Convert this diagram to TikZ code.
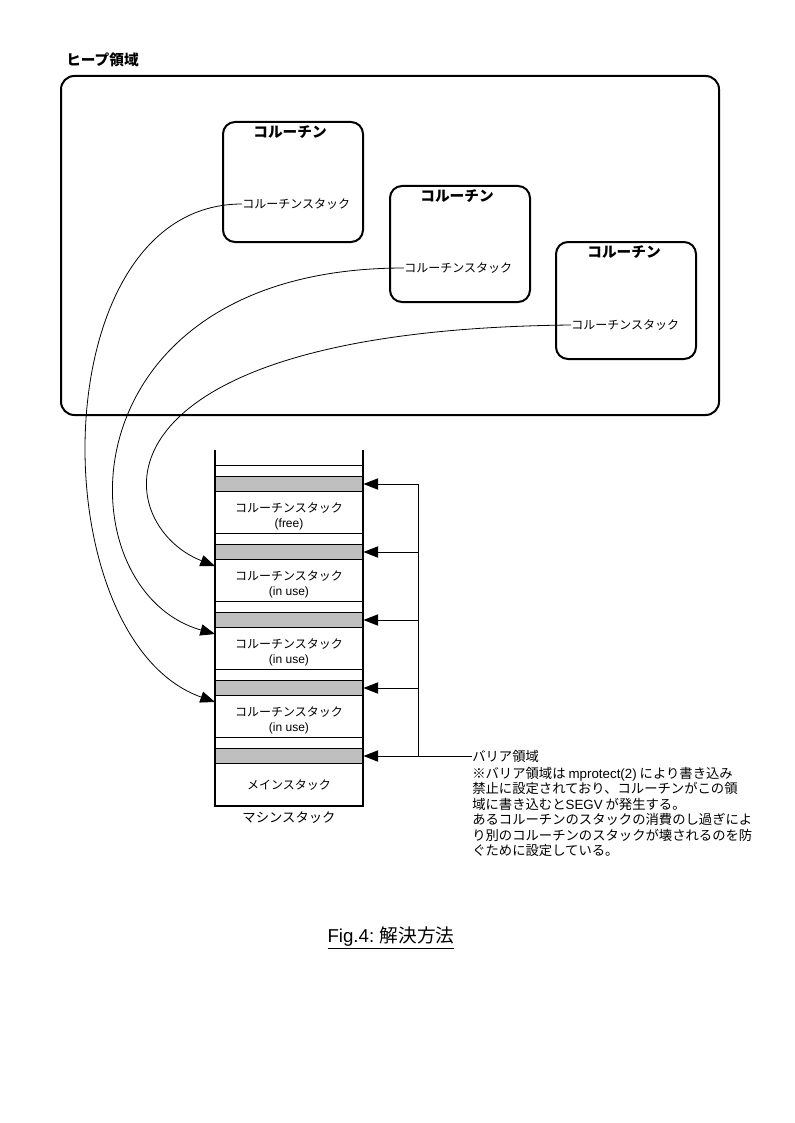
\documentclass[tikz,border=0pt]{standalone}
\usepackage{fontspec}
\setmainfont{Noto Sans CJK JP}
\newfontfamily\latn{Liberation Sans}
\usetikzlibrary{positioning, arrows.meta}

\begin{document}
\begin{tikzpicture}[x=0.75pt, y=-0.75pt,
	every node/.style={inner sep=0pt},
	corobox/.style={draw, line width=1.5pt, rounded corners=9pt},
	cororuby/.style={font=\fontsize{11}{13}\selectfont\bfseries},
	smalltext/.style={font=\fontsize{9}{11.25}\selectfont, align=center},
	notetext/.style={font=\fontsize{10}{11.6}\selectfont, align=left},
	barrierband/.style={draw, line width=0.75pt, fill=black!25, minimum width=111pt, minimum height=11.25pt},
	tip/.style={-{Triangle[length=11pt, width=8.5pt]}}]
	\useasboundingbox (0,0) rectangle (794,1123);

	% heap area
	\node[anchor=west, font=\fontsize{11}{13}\selectfont\bfseries] (heaplabel) at (66,60) {ヒープ領域};
	\draw[line width=1.5pt, rounded corners=10pt] (61,76) rectangle (719,415);

	% coroutines
	\draw[corobox] (223,122) rectangle (363,242);
	\node[cororuby] (c1) at (290,132) {コルーチン};
	\node[smalltext, anchor=west] (s1) at (242,204) {コルーチンスタック};

	\draw[corobox] (390,186) rectangle (530,302);
	\node[cororuby] (c2) at (457,196) {コルーチン};
	\node[smalltext, anchor=west] (s2) at (404,268) {コルーチンスタック};

	\draw[corobox] (556,242) rectangle (696,359);
	\node[cororuby] (c3) at (624,252) {コルーチン};
	\node[smalltext, anchor=west] (s3) at (571,325) {コルーチンスタック};

	% machine stack
	\foreach \k in {0,...,4} {
		\draw[line width=0.75pt] (215,465+68*\k) -- (363,465+68*\k);
		\node[barrierband] (b\k) at (289,484+68*\k) {};
		\coordinate (in\k) at (215,498+68*\k);
	}
	\node[smalltext] (f0) at (289,516) {コルーチンスタック\\{\latn (free)}};
	\foreach \k in {1,2,3}
		\node[smalltext] (f\k) at (289,516+68*\k) {コルーチンスタック\\{\latn (in use)}};
	\node[smalltext] (mainstack) at (289,785) {メインスタック};
	\draw[line width=2pt] (215,450) -- (215,806) -- (363,806) -- (363,450);
	\node[font=\fontsize{10}{12}\selectfont] (machine) at (289,818) {マシンスタック};

	% barrier arrows
	\node[notetext, anchor=west] (barrier) at (472,756) {バリア領域};
	\draw[line width=0.75pt] (418,484) -- (418,756);
	\foreach \k in {0,...,3}
		\draw[line width=0.75pt, tip] (418,484+68*\k) -- (b\k.east);
	\draw[line width=0.75pt, tip] (barrier.west) -- (b4.east);

	\node[notetext, anchor=north west] (note) at (472,767) {※バリア領域は {\latn mprotect(2)} により書き込み\\
		禁止に設定されており、コルーチンがこの領\\
		域に書き込むと{\latn SEGV} が発生する。\\
		あるコルーチンのスタックの消費のし過ぎによ\\
		り別のコルーチンのスタックが壊されるのを防\\
		ぐために設定している。};

	% coroutine stacks to machine stack
	\draw[line width=0.6pt, tip] (s1.west) .. controls (40,204) and (40,640) .. (in3);
	\draw[line width=0.6pt, tip] (s2.west) .. controls (60,268) and (60,590) .. (in2);
	\draw[line width=0.6pt, tip] (s3.west) .. controls (75,330) and (110,525) .. (in1);

	% caption
	\node[font=\fontsize{14}{16}\selectfont] (caption) at (391,938) {\underline{{\latn Fig.4:} 解決方法}};
\end{tikzpicture}
\end{document}
